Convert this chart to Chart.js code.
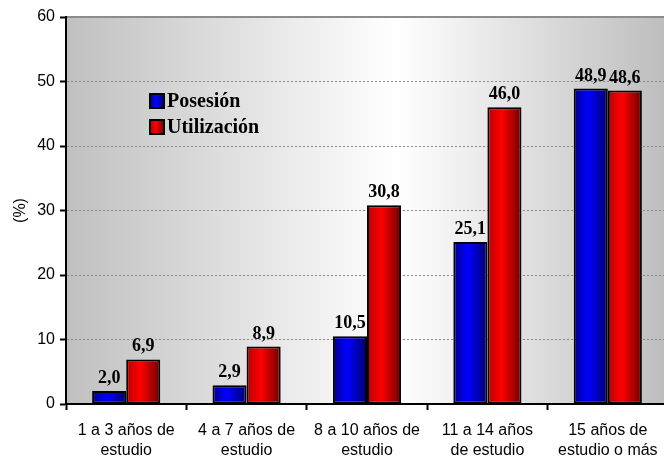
<!DOCTYPE html>
<html>
<head>
<meta charset="utf-8">
<script src="https://cdn.jsdelivr.net/npm/chart.js@4/dist/chart.umd.min.js"></script>
<style>
  html, body { margin: 0; padding: 0; overflow: hidden; background: #fff; }
  #wrap { width: 672px; height: 458px; }
</style>
</head>
<body>
<div id="wrap"><canvas id="chart"></canvas></div>
<script>
// Datos
const categories = [
    ['1 a 3 años de', 'estudio'],
    ['4 a 7 años de', 'estudio'],
    ['8 a 10 años de', 'estudio'],
    ['11 a 14 años', 'de estudio'],
    ['15 años de', 'estudio o más']
];
const posesion = [2.0, 2.9, 10.5, 25.1, 48.9];
const utilizacion = [6.9, 8.9, 30.8, 46.0, 48.6];
const seriesNames = ['Posesión', 'Utilización'];
const yTicks = [0, 10, 20, 30, 40, 50, 60];

const CAT_PCT = 0.566;
const blueStops = ['#00008c', '#0000ff', '#00006e'];
const redStops = ['#b80000', '#ff0000', '#6e0000'];

// horizontaler Verlauf über eine Breite
function hGradient(c, x0, x1, stops) {
    const g = c.createLinearGradient(x0, 0, x1, 0);
    g.addColorStop(0, stops[0]);
    g.addColorStop(0.42, stops[1]);
    g.addColorStop(1, stops[2]);
    return g;
}

function barFill(stops) {
    return (ctx) => {
        const chart = ctx.chart;
        const xs = chart.scales.x;
        if (!chart.chartArea || !xs) return stops[1];
        const catW = xs.width / categories.length;
        const barW = catW * CAT_PCT / 2;
        const center = xs.getPixelForValue(ctx.dataIndex);
        const left = center - barW + ctx.datasetIndex * barW;
        return hGradient(chart.ctx, left, left + barW, stops);
    };
}

const fmt = (v) => v.toFixed(1).replace('.', ',');

// Hintergrund + oberer Rand
const backgroundPlugin = {
    id: 'bg',
    beforeDraw(chart) {
        const { ctx, chartArea: a } = chart;
        const g = ctx.createLinearGradient(a.left, 0, a.right, 0);
        g.addColorStop(0, '#c0c0c0');
        g.addColorStop(0.55, '#ffffff');
        g.addColorStop(1, '#bdbdbd');
        ctx.save();
        ctx.fillStyle = g;
        ctx.fillRect(a.left, a.top, a.right - a.left, a.bottom - a.top);
        ctx.strokeStyle = '#8c8c8c';
        ctx.lineWidth = 2;
        ctx.beginPath();
        ctx.moveTo(a.left, a.top);
        ctx.lineTo(a.right, a.top);
        ctx.stroke();
        ctx.restore();
    }
};

// Werte über den Balken
const valueLabels = {
    id: 'valueLabels',
    afterDatasetsDraw(chart) {
        const ctx = chart.ctx;
        ctx.save();
        ctx.font = 'bold 18px "Times New Roman", "Liberation Serif", serif';
        ctx.fillStyle = '#000';
        ctx.textAlign = 'center';
        ctx.textBaseline = 'alphabetic';
        chart.data.datasets.forEach((ds, di) => {
            chart.getDatasetMeta(di).data.forEach((bar, i) => {
                ctx.fillText(fmt(ds.data[i]), bar.x, bar.y - 8);
            });
        });
        ctx.restore();
    }
};

// Legende innerhalb der Zeichenfläche
const innerLegend = {
    id: 'innerLegend',
    afterDatasetsDraw(chart) {
        const ctx = chart.ctx;
        const x = 150, y0 = 94, rowH = 26, box = 14;
        const stops = [blueStops, redStops];
        ctx.save();
        ctx.font = 'bold 20px "Times New Roman", "Liberation Serif", serif';
        ctx.textBaseline = 'middle';
        ctx.textAlign = 'left';
        seriesNames.forEach((name, i) => {
            const y = y0 + i * rowH;
            ctx.fillStyle = hGradient(ctx, x, x + box, stops[i]);
            ctx.fillRect(x, y, box, box);
            ctx.strokeStyle = '#000';
            ctx.lineWidth = 2;
            ctx.strokeRect(x, y, box, box);
            ctx.fillStyle = '#000';
            ctx.fillText(name, x + box + 3, y + box / 2 + 1);
        });
        ctx.restore();
    }
};

new Chart(document.getElementById('chart'), {
    type: 'bar',
    data: {
        labels: categories,
        datasets: [
            { label: seriesNames[0], data: posesion, backgroundColor: barFill(blueStops), borderColor: '#000', borderWidth: 2, borderSkipped: false },
            { label: seriesNames[1], data: utilizacion, backgroundColor: barFill(redStops), borderColor: '#000', borderWidth: 2, borderSkipped: false }
        ]
    },
    options: {
        responsive: true,
        maintainAspectRatio: false,
        animation: false,
        categoryPercentage: CAT_PCT,
        barPercentage: 1,
        layout: { padding: { top: 17, right: 4, left: 0, bottom: 0 } },
        plugins: {
            legend: { display: false },
            tooltip: { enabled: false }
        },
        scales: {
            x: {
                offset: true,
                afterFit: (s) => { s.height = 54; },
                grid: { offset: true, drawOnChartArea: false, tickLength: 6, tickColor: '#000', tickWidth: 2 },
                border: { color: '#000', width: 2 },
                ticks: {
                    color: '#000',
                    padding: 11,
                    maxRotation: 0,
                    autoSkip: false,
                    font: { family: 'Arial, "Liberation Sans", sans-serif', size: 16, lineHeight: 1.25 }
                }
            },
            y: {
                min: 0,
                max: 60,
                afterFit: (s) => { s.width = 66; },
                afterBuildTicks: (s) => { s.ticks = yTicks.map(v => ({ value: v })); },
                grid: {
                    color: (c) => (c.tick && c.tick.value > 0 && c.tick.value < 60) ? '#8a8a8a' : 'rgba(0,0,0,0)',
                    lineWidth: 1,
                    tickLength: 6,
                    tickColor: '#000',
                    tickWidth: 2
                },
                border: { color: '#000', width: 2, dash: [2, 2] },
                ticks: {
                    color: '#000',
                    padding: 5,
                    font: { family: 'Arial, "Liberation Sans", sans-serif', size: 16 }
                },
                title: {
                    display: true,
                    text: '(%)',
                    color: '#000',
                    padding: { top: 11, bottom: 0 },
                    font: { family: 'Arial, "Liberation Sans", sans-serif', size: 16 }
                }
            }
        }
    },
    plugins: [backgroundPlugin, valueLabels, innerLegend]
});
</script>
</body>
</html>
